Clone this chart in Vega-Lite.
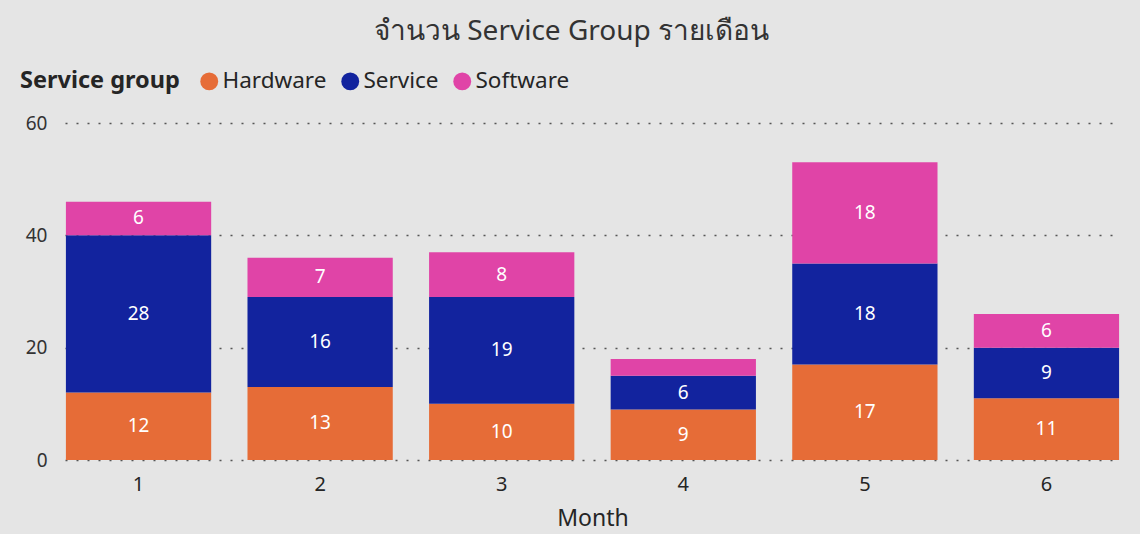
{
  "$schema": "https://vega.github.io/schema/vega-lite/v6.json",
  "autosize": {"type": "none"},
  "padding": {"left": 65, "top": 123, "right": 20, "bottom": 74},
  "width": 1055,
  "height": 337,
  "background": "#e5e5e5",
  "title": {
    "text": "จำนวน Service Group รายเดือน",
    "fontSize": 28,
    "font": "Noto Sans",
    "fontWeight": "normal",
    "color": "#333333",
    "anchor": "middle",
    "dx": -21,
    "offset": 24
  },
  "config": {
    "font": "Noto Sans",
    "view": {"stroke": null}
  },
  "data": {
    "values": [
      {"Month": 1, "Service group": "Hardware", "Count": 12},
      {"Month": 1, "Service group": "Service", "Count": 28},
      {"Month": 1, "Service group": "Software", "Count": 6},
      {"Month": 2, "Service group": "Hardware", "Count": 13},
      {"Month": 2, "Service group": "Service", "Count": 16},
      {"Month": 2, "Service group": "Software", "Count": 7},
      {"Month": 3, "Service group": "Hardware", "Count": 10},
      {"Month": 3, "Service group": "Service", "Count": 19},
      {"Month": 3, "Service group": "Software", "Count": 8},
      {"Month": 4, "Service group": "Hardware", "Count": 9},
      {"Month": 4, "Service group": "Service", "Count": 6},
      {"Month": 4, "Service group": "Software", "Count": 3},
      {"Month": 5, "Service group": "Hardware", "Count": 17},
      {"Month": 5, "Service group": "Service", "Count": 18},
      {"Month": 5, "Service group": "Software", "Count": 18},
      {"Month": 6, "Service group": "Hardware", "Count": 11},
      {"Month": 6, "Service group": "Service", "Count": 9},
      {"Month": 6, "Service group": "Software", "Count": 6}
    ]
  },
  "encoding": {
    "x": {
      "field": "Month",
      "type": "ordinal",
      "scale": {"paddingInner": 0.2, "paddingOuter": 0.005},
      "axis": {
        "labelAngle": 0,
        "labelFontSize": 20,
        "labelColor": "#252525",
        "labelPadding": 14,
        "domain": false,
        "ticks": false,
        "title": "Month",
        "titleFontSize": 23,
        "titleFontWeight": "normal",
        "titleColor": "#252525",
        "titlePadding": 13
      }
    },
    "y": {
      "field": "Count",
      "type": "quantitative",
      "stack": "zero",
      "scale": {"domain": [0, 60], "nice": false},
      "axis": {
        "values": [0, 20, 40, 60],
        "title": null,
        "domain": false,
        "ticks": false,
        "labelFontSize": 19,
        "labelColor": "#333333",
        "labelPadding": 18,
        "grid": true,
        "gridColor": "#555555",
        "gridDash": [2, 9],
        "gridWidth": 1.5
      }
    }
  },
  "layer": [
    {
      "mark": {"type": "bar"},
      "encoding": {
        "color": {
          "field": "Service group",
          "type": "nominal",
          "scale": {
            "domain": ["Hardware", "Service", "Software"],
            "range": ["#E66C37", "#12239E", "#E044A7"]
          },
          "legend": {
            "orient": "none",
            "legendX": -45,
            "legendY": -53,
            "direction": "horizontal",
            "titleOrient": "left",
            "title": "Service group",
            "titleFontSize": 23.5,
            "titleFontWeight": "bold",
            "titleColor": "#252525",
            "titlePadding": 18,
            "labelFontSize": 22.5,
            "labelColor": "#252525",
            "labelOffset": 2,
            "symbolType": "circle",
            "symbolSize": 320,
            "symbolStrokeWidth": 0,
            "columnPadding": 12
          }
        },
        "order": {"field": "Service group"}
      }
    },
    {
      "transform": [{"filter": "datum.Count >= 5"}],
      "mark": {"type": "text", "color": "white", "fontSize": 19, "baseline": "middle"},
      "encoding": {
        "y": {"field": "Count", "type": "quantitative", "stack": "zero", "bandPosition": 0.5},
        "detail": {"field": "Service group"},
        "order": {"field": "Service group"},
        "text": {"field": "Count", "type": "quantitative"}
      }
    }
  ]
}
